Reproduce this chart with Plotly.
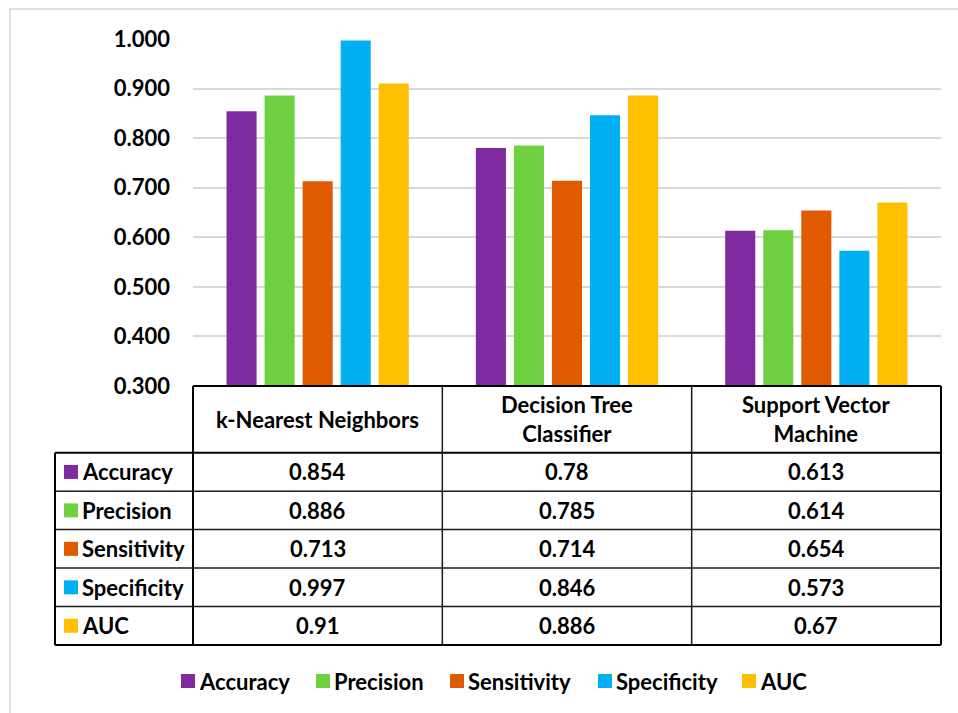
import plotly.graph_objects as go

models = ["k-Nearest Neighbors", "Decision Tree<br>Classifier", "Support Vector<br>Machine"]
metrics = ["Accuracy", "Precision", "Sensitivity", "Specificity", "AUC"]
accuracy = [0.854, 0.780, 0.613]
precision = [0.886, 0.785, 0.614]
sensitivity = [0.713, 0.714, 0.654]
specificity = [0.997, 0.846, 0.573]
auc = [0.910, 0.886, 0.670]
tick_values = [0.3, 0.4, 0.5, 0.6, 0.7, 0.8, 0.9, 1.0]

series = [accuracy, precision, sensitivity, specificity, auc]
colors = ["#7F2BA0", "#6FD142", "#E05A00", "#00B0F0", "#FFC000"]

W, H = 958, 713
L, R, T, B = 193, 17, 39, 327
PW, PH = W - L - R, H - T - B
FONT = "Lato"
FS = 22

def px(x):
    return (x - L) / PW

def py(y):
    return (H - B - y) / PH

fig = go.Figure()
cats = list(range(len(models)))
for name, vals, col in zip(metrics, series, colors):
    fig.add_trace(go.Bar(x=cats, y=vals, name=name, marker=dict(color=col, line=dict(width=0)),
                         showlegend=False))

shapes = []
annotations = []

# outer light border of the chart area
shapes.append(dict(type="rect", xref="paper", yref="paper", x0=px(10), x1=px(1100), y0=py(9), y1=py(800),
                   line=dict(color="#D9D9D9", width=1.5), fillcolor="rgba(0,0,0,0)", layer="below"))

# table geometry (pixels)
top = 386
head_bot = 452.7
row_h = (645 - head_bot) / len(metrics)
rows = [head_bot + i * row_h for i in range(len(metrics) + 1)]
left = 55

line_dark = dict(color="#000000", width=2)
line_in = dict(color="#1a1a1a", width=1.5)

# header top
shapes.append(dict(type="line", xref="paper", yref="paper", x0=px(L), x1=px(W - R), y0=py(top), y1=py(top), line=line_dark))
# row lines
for i, yy in enumerate(rows):
    ln = line_dark if i in (0, len(rows) - 1) else line_in
    shapes.append(dict(type="line", xref="paper", yref="paper", x0=px(left), x1=px(W - R), y0=py(yy), y1=py(yy), line=ln))
# verticals
shapes.append(dict(type="line", xref="paper", yref="paper", x0=px(left), x1=px(left), y0=py(head_bot), y1=py(rows[-1]), line=line_dark))
shapes.append(dict(type="line", xref="paper", yref="paper", x0=0, x1=0, y0=py(top), y1=py(rows[-1]), line=line_dark))
shapes.append(dict(type="line", xref="paper", yref="paper", x0=1, x1=1, y0=py(top), y1=py(rows[-1]), line=line_dark))
for b in [0.5, 1.5]:
    shapes.append(dict(type="line", xref="x", yref="paper", x0=b, x1=b, y0=py(top), y1=py(rows[-1]), line=line_in))

tf = dict(family=FONT, size=FS, color="#000000", weight="bold")

# header texts
for c, m in zip(cats, models):
    annotations.append(dict(xref="x", yref="paper", x=c, y=py((top + head_bot) / 2), text=m, showarrow=False,
                            xanchor="center", yanchor="middle", font=tf, align="center"))

# rows
for i, (name, vals, col) in enumerate(zip(metrics, series, colors)):
    yc = (rows[i] + rows[i + 1]) / 2
    shapes.append(dict(type="rect", xref="paper", yref="paper", x0=px(64), x1=px(78), y0=py(yc - 7), y1=py(yc + 7),
                       line=dict(width=0), fillcolor=col))
    annotations.append(dict(xref="paper", yref="paper", x=px(80), y=py(yc), text=name, showarrow=False,
                            xanchor="left", yanchor="middle", font=tf))
    for c, v in zip(cats, vals):
        annotations.append(dict(xref="x", yref="paper", x=c, y=py(yc), text=f"{v:g}", showarrow=False,
                                xanchor="center", yanchor="middle", font=tf))

# legend (manual)
leg_x = [181, 316, 450, 598, 742]
leg_y = 681
for name, col, lx in zip(metrics, colors, leg_x):
    shapes.append(dict(type="rect", xref="paper", yref="paper", x0=px(lx), x1=px(lx + 14), y0=py(leg_y - 7), y1=py(leg_y + 7),
                       line=dict(width=0), fillcolor=col))
    annotations.append(dict(xref="paper", yref="paper", x=px(lx + 16), y=py(leg_y), text=name, showarrow=False,
                            xanchor="left", yanchor="middle", font=tf))

fig.update_layout(
    width=W, height=H, autosize=False,
    margin=dict(l=L, r=R, t=T, b=B, pad=0),
    paper_bgcolor="white", plot_bgcolor="white",
    barmode="group", bargap=0.237, bargroupgap=0.21,
    shapes=shapes, annotations=annotations,
    font=dict(family=FONT, size=FS, color="#000000"),
)
fig.update_xaxes(range=[-0.5, 2.5], showticklabels=False, showgrid=False, zeroline=False, showline=False, ticks="")
fig.update_yaxes(range=[0.3, 1.0], tickvals=tick_values, tickformat=".3f", showgrid=True, gridcolor="#D9D9D9", gridwidth=1.5,
                 zeroline=False, showline=False, ticks="", ticklabelstandoff=22,
                 tickfont=dict(family=FONT, size=FS, color="#000000", weight="bold"))

fig.write_html("out.html")
